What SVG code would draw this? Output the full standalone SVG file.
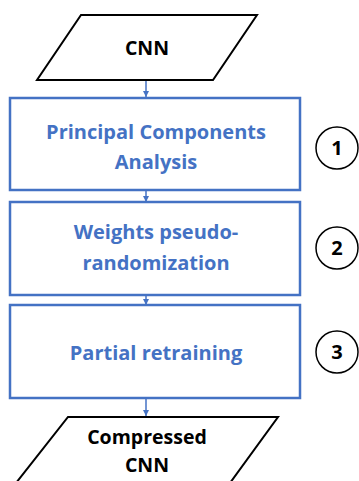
<svg xmlns="http://www.w3.org/2000/svg" width="359" height="481" viewBox="0 0 359 481">
<style>
.io{fill:#fff;stroke:#000;stroke-width:2}
.box{fill:#fff;stroke:#4472C4;stroke-width:2.5}
.bt{font-family:"Open Sans","Liberation Sans",sans-serif;font-weight:bold;font-size:20px;fill:#4472C4;text-anchor:middle}
.kt{font-family:"Open Sans","Liberation Sans",sans-serif;font-weight:bold;font-size:19.5px;fill:#000;text-anchor:middle}
.num{fill:#fff;stroke:#000;stroke-width:1.5}
.nt{font-family:"Open Sans","Liberation Sans",sans-serif;font-weight:bold;font-size:20px;fill:#000;text-anchor:middle}
.edge{stroke:#4472C4;stroke-width:1.5;fill:none;marker-end:url(#ah)}
</style>
<defs>
<marker id="ah" viewBox="0 0 6 6" refX="6" refY="3" markerWidth="6" markerHeight="6" markerUnits="userSpaceOnUse" orient="auto">
<path d="M0,0 L6,3 L0,6 Z" fill="#4472C4"/>
</marker>
</defs>
<g id="connectors">
<line class="edge" x1="146" y1="81" x2="146" y2="97"/>
<line class="edge" x1="146" y1="191" x2="146" y2="202"/>
<line class="edge" x1="146" y1="296" x2="146" y2="305"/>
<line class="edge" x1="146" y1="399" x2="146" y2="416"/>
</g>
<g id="n-cnn">
<polygon class="io" points="81,15 257,15 213,80 37,80"/>
<text class="kt" x="147" y="55">CNN</text>
</g>
<g id="n-pca">
<rect class="box" x="10" y="98" width="290" height="92"/>
<text class="bt" x="156" y="138.5">Principal Components</text>
<text class="bt" x="156" y="168.5">Analysis</text>
</g>
<g id="n-wpr">
<rect class="box" x="10" y="202" width="290" height="93"/>
<text class="bt" x="156" y="238.5">Weights pseudo-</text>
<text class="bt" x="156" y="269.5">randomization</text>
</g>
<g id="n-pr">
<rect class="box" x="10" y="305" width="290" height="93"/>
<text class="bt" x="156" y="359.5">Partial retraining</text>
</g>
<g id="n-out">
<polygon class="io" points="68,417 278,417 230,483 16,483"/>
<text class="kt" x="147" y="443.5">Compressed</text>
<text class="kt" x="147" y="472">CNN</text>
</g>
<g id="c1">
<circle class="num" cx="337" cy="148" r="21"/>
<text class="nt" x="337" y="155">1</text>
</g>
<g id="c2">
<circle class="num" cx="337" cy="248" r="21"/>
<text class="nt" x="337" y="255">2</text>
</g>
<g id="c3">
<circle class="num" cx="337" cy="352" r="21"/>
<text class="nt" x="337" y="359">3</text>
</g>
</svg>
